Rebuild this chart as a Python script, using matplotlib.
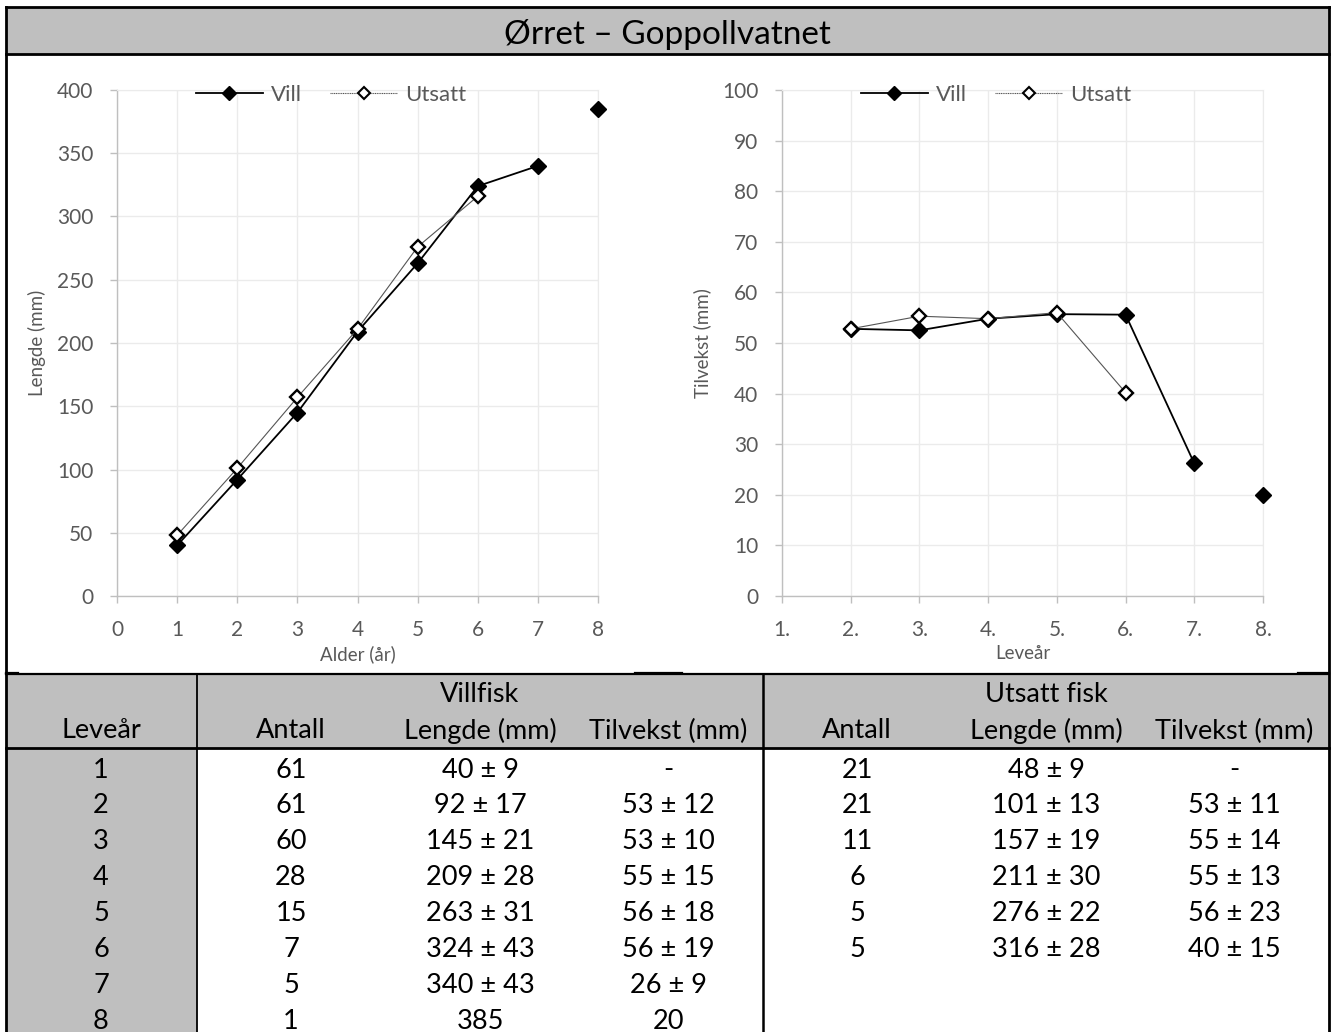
import matplotlib.pyplot as plt
from matplotlib.lines import Line2D

plt.rcParams['font.family'] = ['Lato', 'DejaVu Sans']

# data
alder = [1, 2, 3, 4, 5, 6, 7, 8]
vill_antall = [61, 61, 60, 28, 15, 7, 5, 1]
vill_lengde = [40, 92, 145, 209, 263, 324, 340, 385]
vill_lengde_sd = [9, 17, 21, 28, 31, 43, 43, None]
vill_tilvekst = [None, 53, 53, 55, 56, 56, 26, 20]
vill_tilvekst_sd = [None, 12, 10, 15, 18, 19, 9, None]
# tilvekst (less rounded than the table)
vill_tilvekst_plot = [52.8, 52.5, 54.8, 55.7, 55.6, 26.2, 20.0]

uts_antall = [21, 21, 11, 6, 5, 5]
uts_lengde = [48, 101, 157, 211, 276, 316]
uts_lengde_sd = [9, 13, 19, 30, 22, 28]
uts_tilvekst = [None, 53, 55, 55, 56, 40]
uts_tilvekst_sd = [None, 11, 14, 13, 23, 15]
uts_tilvekst_plot = [52.8, 55.3, 54.8, 56.0, 40.2]

levear_labels = ['1.', '2.', '3.', '4.', '5.', '6.', '7.', '8.']

W, H = 1336, 1032
fig = plt.figure(figsize=(W / 100, H / 100), dpi=100)

GRAY = '#BFBFBF'
TXT = '#595959'
GRID = '#EBEBEB'


def style_axes(ax):
    ax.grid(True, color=GRID, lw=1)
    ax.set_axisbelow(True)
    for s in ['top', 'right']:
        ax.spines[s].set_color(GRID)
    for s in ['left', 'bottom']:
        ax.spines[s].set_color('#BFBFBF')
        ax.spines[s].set_linewidth(1)
    ax.tick_params(colors='#BFBFBF', labelcolor=TXT, labelsize=15, length=5, width=1)


def fmt(m, sd):
    if m is None:
        return '-'
    if sd is None:
        return str(m)
    return f'{m} ± {sd}'


vill_style = dict(color='black', marker='D', ms=8.5, clip_on=False)
uts_style = dict(color='#555555', lw=0.8, marker='D', ms=7, mfc='white', mec='black',
                 mew=1.7, clip_on=False)

# left chart
ax1 = fig.add_axes([117 / W, 1 - 596 / H, 481 / W, 506 / H])
style_axes(ax1)
ax1.plot(alder[:7], vill_lengde[:7], color='black', lw=1.3, zorder=3)
ax1.plot(alder, vill_lengde, ls='none', zorder=4, **vill_style)
ax1.plot(alder[:len(uts_lengde)], uts_lengde, zorder=5, **uts_style)
ax1.set_xlim(0, 8)
ax1.set_ylim(0, 400)
ax1.set_xticks(range(0, 9))
ax1.set_yticks(range(0, 401, 50))
ax1.set_xlabel('Alder (år)', fontsize=13.5, color=TXT, labelpad=4)
ax1.set_ylabel('Lengde (mm)', fontsize=13.5, color=TXT, labelpad=8)

# right chart
ax2 = fig.add_axes([782 / W, 1 - 596 / H, 481 / W, 506 / H])
style_axes(ax2)
ax2.plot(alder[1:7], vill_tilvekst_plot[:6], color='black', lw=1.3, zorder=3)
ax2.plot(alder[1:], vill_tilvekst_plot, ls='none', zorder=4, **vill_style)
ax2.plot(alder[1:1 + len(uts_tilvekst_plot)], uts_tilvekst_plot, zorder=5, **uts_style)
ax2.set_xlim(1, 8)
ax2.set_ylim(0, 100)
ax2.set_xticks(alder)
ax2.set_xticklabels(levear_labels)
ax2.set_yticks(range(0, 101, 10))
ax2.set_xlabel('Leveår', fontsize=13.5, color=TXT, labelpad=4)
ax2.set_ylabel('Tilvekst (mm)', fontsize=13.5, color=TXT, labelpad=8)

for ax in (ax1, ax2):
    ax.tick_params(axis='x', pad=12)
    ax.tick_params(axis='y', pad=12)
    handles = [Line2D([], [], color='black', lw=1.3, marker='D', ms=7, label='Vill'),
               Line2D([], [], color='#555555', lw=0.8, ls=(0, (1, 0.6)), marker='D', ms=6.5,
                      mfc='white', mec='black', mew=1.5, label='Utsatt')]
    ax.legend(handles=handles, loc='center', bbox_to_anchor=(0.445, 0.99), ncol=2,
              frameon=False, fontsize=16, labelcolor=TXT, handlelength=3.0,
              handletextpad=0.35, columnspacing=1.3)

# frame, title bar and table drawn in pixel units
bg = fig.add_axes([0, 0, 1, 1], zorder=-1)
bg.set_xlim(0, W)
bg.set_ylim(H, 0)
bg.axis('off')

L, R = 6, 1329
top, tbot = 7, 54
ttop, hbot = 674, 748
c1, cmid = 197, 763

bg.add_patch(plt.Rectangle((L, top), R - L, tbot - top, fc=GRAY, ec='none'))
bg.add_patch(plt.Rectangle((L, ttop), R - L, hbot - ttop, fc=GRAY, ec='none'))
bg.add_patch(plt.Rectangle((L, hbot), c1 - L, H - hbot, fc=GRAY, ec='none'))

lw = 2.0
bg.plot([L, R], [top, top], color='black', lw=lw)
bg.plot([L, R], [tbot, tbot], color='black', lw=lw)
bg.plot([L, L], [top, H], color='black', lw=lw)
bg.plot([R, R], [top, H], color='black', lw=lw)
bg.plot([L, R], [ttop, ttop], color='black', lw=1.6)
bg.plot([L, R], [hbot, hbot], color='black', lw=lw)
bg.plot([c1, c1], [ttop, H], color='black', lw=1.3)
bg.plot([cmid, cmid], [ttop, H], color='black', lw=1.8)
# small chart-border stubs above the table
for x0, x1 in [(L, 18), (635, 682), (1298, R)]:
    bg.plot([x0, x1], [672.5, 672.5], color='black', lw=1.6)

bg.text((L + R) / 2, 34, 'Ørret – Goppollvatnet', fontsize=24, ha='center', va='center')

fs = 19.5
col_x = [101, 291, 480, 668, 857, 1046, 1234]
bg.text(480, 695, 'Villfisk', fontsize=fs, ha='center', va='center')
bg.text(1046, 695, 'Utsatt fisk', fontsize=fs, ha='center', va='center')
heads = ['Leveår', 'Antall', 'Lengde (mm)', 'Tilvekst (mm)',
         'Antall', 'Lengde (mm)', 'Tilvekst (mm)']
for x, h in zip(col_x, heads):
    bg.text(x, 731, h, fontsize=fs, ha='center', va='center')

row0, dy = 770, 35.9
for i, a in enumerate(alder):
    y = row0 + i * dy
    cells = [str(a), str(vill_antall[i]), fmt(vill_lengde[i], vill_lengde_sd[i]),
             fmt(vill_tilvekst[i], vill_tilvekst_sd[i])]
    if i < len(uts_antall):
        cells += [str(uts_antall[i]), fmt(uts_lengde[i], uts_lengde_sd[i]),
                  fmt(uts_tilvekst[i], uts_tilvekst_sd[i])]
    for x, c in zip(col_x, cells):
        bg.text(x, y, c, fontsize=fs, ha='center', va='center')

fig.savefig('out.png', dpi=100)
